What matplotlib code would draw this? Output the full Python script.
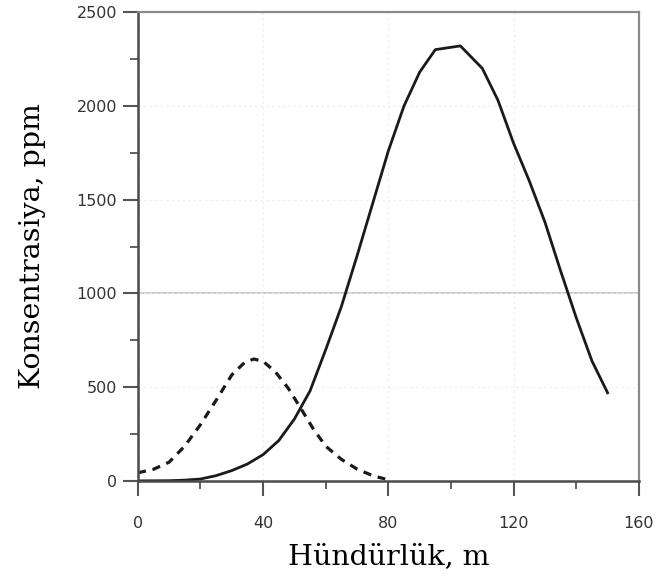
import matplotlib.pyplot as plt
from matplotlib.ticker import MultipleLocator

# hündürlük (m) və konsentrasiya (ppm) qiymətləri
h_solid = [0, 10, 15, 20, 25, 30, 35, 40, 45, 50, 55, 60, 65, 70, 75, 80, 85,
           90, 95, 103, 110, 115, 120, 125, 130, 135, 140, 145, 150]
c_solid = [0, 1, 4, 10, 28, 55, 90, 140, 215, 330, 480, 700, 930, 1200, 1480,
           1760, 2000, 2180, 2300, 2320, 2200, 2030, 1800, 1600, 1380, 1120, 870,
           640, 470]

h_dash = [0, 5, 10, 15, 20, 25, 30, 34, 37, 40, 44, 48, 52, 56, 60, 65, 70, 75, 79]
c_dash = [43, 62, 100, 186, 300, 430, 565, 630, 650, 638, 580, 495, 388, 278,
          185, 115, 63, 28, 10]

x_ticks = [0, 40, 80, 120, 160]
y_ticks = [0, 500, 1000, 1500, 2000, 2500]

fig = plt.figure(figsize=(6.69, 5.78), dpi=100)
ax = fig.add_axes([0.206, 0.168, 0.749, 0.811])

# köməkçi xətlər
ax.axhline(1000, color='#c4c4c4', lw=1.2, zorder=0)
ax.grid(True, which='major', color='#ececec', linestyle=(0, (2, 3)), lw=0.8, zorder=0)

ax.plot(h_solid, c_solid, color='#1a1a1a', lw=2.0)
ax.plot(h_dash, c_dash, color='#1a1a1a', lw=2.3, linestyle=(0, (2.6, 2.1)))

ax.set_xlim(0, 160)
ax.set_ylim(0, 2500)
ax.set_xticks(x_ticks)
ax.set_yticks(y_ticks)
ax.xaxis.set_minor_locator(MultipleLocator(20))
ax.yaxis.set_minor_locator(MultipleLocator(250))

ax.tick_params(which='major', direction='out', length=11, width=1.5,
               color='#555555', labelsize=11.5, labelcolor='#333333')
ax.tick_params(which='minor', direction='out', length=6, width=1.3, color='#555555')
ax.tick_params(axis='x', which='major', pad=14)
ax.tick_params(axis='y', which='major', pad=4)

for side in ['left', 'bottom']:
    ax.spines[side].set_color('#4a4a4a')
    ax.spines[side].set_linewidth(1.8)
for side in ['top', 'right']:
    ax.spines[side].set_color('#8a8a8a')
    ax.spines[side].set_linewidth(1.6)

ax.set_xlabel('Hündürlük, m', family='DejaVu Serif', fontsize=20.5, labelpad=9)
ax.set_ylabel('Konsentrasiya, ppm', family='DejaVu Serif', fontsize=20.5, labelpad=22)

fig.savefig('out.png', dpi=100)
